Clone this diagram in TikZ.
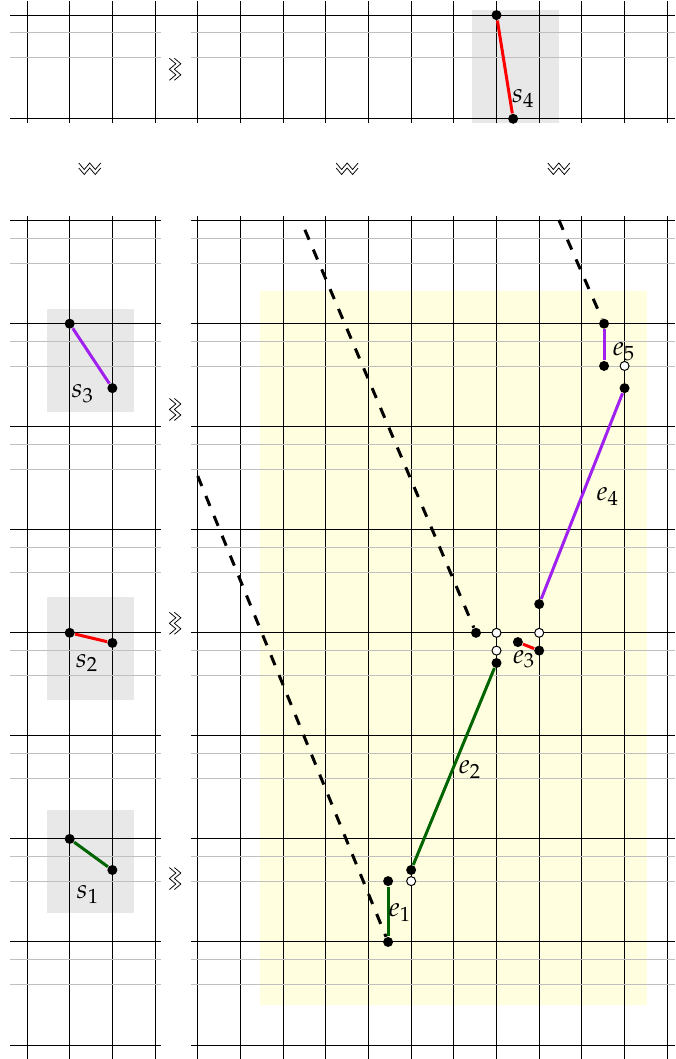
\documentclass[tikz,border=0pt]{standalone}
\usepackage{mathpazo}
\definecolor{segred}{RGB}{255,0,0}
\definecolor{seggreen}{RGB}{0,100,0}
\definecolor{segpurple}{RGB}{160,32,240}
\definecolor{regionyellow}{RGB}{255,255,224}
\tikzset{
  dot/.style={circle,fill=black,inner sep=0pt,minimum size=4pt},
  opendot/.style={circle,draw=black,fill=white,line width=0.4pt,inner sep=0pt,minimum size=3.6pt},
  seg/.style={line width=1.2pt},
  guess/.style={line width=1.2pt,dash pattern=on 4.3pt off 4.3pt},
  lightline/.style={lightgray,line width=0.5pt},
  brk/.pic={
    \foreach \dd in {1,-1}{
      \draw[line width=0.3pt] (-4.4pt,\dd*1pt+1.3pt) -- (-2.2pt,\dd*1pt-1.3pt) -- (0pt,\dd*1pt+1.3pt) -- (2.2pt,\dd*1pt-1.3pt) -- (4.4pt,\dd*1pt+1.3pt);
    }
  }
}
\begin{document}
\begin{tikzpicture}[x=0.6cm,y=0.6cm]
  \useasboundingbox (-0.633,-0.328) rectangle (15.184,24.484);
  \fill[regionyellow] (5.46,0.94) rectangle (14.53,17.67);
  \fill[black!9] (10.43,21.6) rectangle (12.46,24.25);
  \foreach \yy/\hh in {14.83/17.24,8.08/10.5,3.09/5.51}{
    \fill[black!9] (0.47,\yy) rectangle (2.51,\hh);
  }
  \foreach \cc in {0,...,15}{
    \draw[line width=0.4pt] (\cc,-0.33) -- (\cc,19.42);
    \draw[line width=0.4pt] (\cc,21.6) -- (\cc,24.45);
  }
  \foreach \kk in {0,...,8}{
    \draw[line width=0.4pt] (-0.4,{2.41421*\kk}) -- (3.14,{2.41421*\kk});
    \draw[line width=0.4pt] (3.84,{2.41421*\kk}) -- (15.18,{2.41421*\kk});
  }
  \foreach \kk in {1,...,8}{
    \foreach \dd in {0.41421,1}{
      \draw[lightline] (-0.4,{2.41421*\kk-\dd}) -- (3.14,{2.41421*\kk-\dd});
      \draw[lightline] (3.84,{2.41421*\kk-\dd}) -- (15.18,{2.41421*\kk-\dd});
    }
  }
  \draw[line width=0.4pt] (-0.4,21.7) -- (15.18,21.7);
  \draw[line width=0.4pt] (-0.4,24.13) -- (15.18,24.13);
  \foreach \dd in {0.41421,1}{
    \draw[lightline] (-0.4,{24.13-\dd}) -- (3.14,{24.13-\dd});
    \draw[lightline] (3.84,{24.13-\dd}) -- (15.18,{24.13-\dd});
  }
  \foreach \yy in {22.86,14.89,9.88,3.9}{
    \pic[rotate=90] at (3.47,\yy) {brk};
  }
  \foreach \xx in {1.47,7.5,12.46}{
    \pic at (\xx,20.53) {brk};
  }
  \node[dot] (sfoura) at (11,24.13) {};
  \node[dot] (sfourb) at (11.39,21.7) {};
  \node[dot] (sthreea) at (1,16.9) {};
  \node[dot] (sthreeb) at (2,15.39) {};
  \node[dot] (stwoa) at (1,9.657) {};
  \node[dot] (stwob) at (2,9.42) {};
  \node[dot] (sonea) at (1,4.828) {};
  \node[dot] (soneb) at (2,4.1) {};
  \draw[seg,segred] (sfoura) -- (sfourb);
  \draw[seg,segpurple] (sthreea) -- (sthreeb);
  \draw[seg,segred] (stwoa) -- (stwob);
  \draw[seg,seggreen] (sonea) -- (soneb);
  \node[dot] (eonea) at (8.46,2.414) {};
  \node[dot] (eoneb) at (8.46,3.84) {};
  \node[dot] (etwoa) at (9,4.1) {};
  \node[dot] (etwob) at (11,8.95) {};
  \node[dot] (ethreea) at (11.5,9.44) {};
  \node[dot] (ethreeb) at (12,9.24) {};
  \node[dot] (efoura) at (12,10.33) {};
  \node[dot] (efourb) at (14,15.39) {};
  \node[dot] (efivea) at (13.52,15.91) {};
  \node[dot] (efiveb) at (13.52,16.9) {};
  \node[dot] (corner) at (10.52,9.657) {};
  \foreach \xx/\yy in {9/3.84,11/9.24,11/9.657,12/9.657,14/15.91}{
    \node[opendot] at (\xx,\yy) {};
  }
  \draw[seg,seggreen] (eonea) -- (eoneb);
  \draw[seg,seggreen] (etwoa) -- (etwob);
  \draw[seg,segred] (ethreea) -- (ethreeb);
  \draw[seg,segpurple] (efoura) -- (efourb);
  \draw[seg,segpurple] (efivea) -- (efiveb);
  \coordinate (guessa) at (4,13.33);
  \coordinate (guessb) at (6.51,19.1);
  \coordinate (guessc) at (12.46,19.33);
  \draw[guess] (guessa) -- (eonea);
  \draw[guess] (guessb) -- (corner);
  \draw[guess] (guessc) -- (efiveb);
  \node[scale=1.08] (sfour) at (11.63,22.17) {\(s_4\)};
  \node[scale=1.08] (sthree) at (1.31,15.26) {\(s_3\)};
  \node[scale=1.08] (stwo) at (1.41,8.95) {\(s_2\)};
  \node[scale=1.08] (sone) at (1.43,3.52) {\(s_1\)};
  \node[scale=1.08] (eone) at (8.74,3.11) {\(e_1\)};
  \node[scale=1.08] (etwo) at (10.38,6.46) {\(e_2\)};
  \node[scale=1.08] (ethree) at (11.65,9.04) {\(e_3\)};
  \node[scale=1.08] (efour) at (13.61,12.84) {\(e_4\)};
  \node[scale=1.08] (efive) at (13.99,16.24) {\(e_5\)};
\end{tikzpicture}
\end{document}
